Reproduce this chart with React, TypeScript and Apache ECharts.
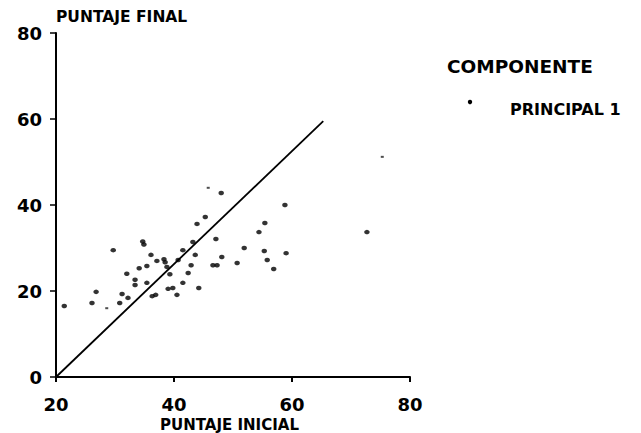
import React, { useEffect, useRef } from "react";
import * as echarts from "echarts";

// Scatter points: [puntaje inicial, puntaje final]
const principal1: number[][] = [
  [21.4, 16.5], [26.1, 17.2], [26.8, 19.8], [29.7, 29.5], [30.8, 17.2],
  [31.2, 19.3], [32.2, 18.4], [32.0, 24.0], [33.4, 22.6], [33.4, 21.4],
  [34.1, 25.3], [34.7, 31.5], [34.9, 30.8], [35.4, 25.8], [35.4, 21.9],
  [36.1, 28.4], [36.3, 18.8], [36.9, 19.1], [37.1, 27.0], [38.3, 27.4],
  [38.5, 26.7], [38.8, 25.6], [39.0, 20.5], [39.8, 20.7], [39.3, 23.9],
  [40.5, 19.1], [40.7, 27.2], [41.5, 29.5], [41.5, 21.9], [42.4, 24.2],
  [42.9, 26.0], [43.2, 31.4], [43.6, 28.4], [44.2, 20.7], [43.9, 35.6],
  [45.3, 37.2], [47.1, 32.1], [46.6, 26.0], [47.3, 26.0], [48.1, 27.9],
  [48.0, 42.8], [50.7, 26.5], [51.9, 30.0], [54.4, 33.7], [55.4, 35.8],
  [55.3, 29.3], [55.8, 27.2], [56.9, 25.1], [58.8, 40.0], [59.0, 28.8],
  [72.7, 33.7],
];
// Faint marks (very small specks / dash)
const faintPoints: number[][] = [[28.6, 16.0], [45.8, 44.0], [75.3, 51.2]];
// Reference line
const refLine: number[][] = [[20, 0], [65.3, 59.5]];

const xTicks = { min: 20, max: 80, interval: 20 };
const yTicks = { min: 0, max: 80, interval: 20 };

const legendTitle = "COMPONENTE";
const seriesName = "PRINCIPAL 1";

const FONT = "DejaVu Sans";

export default function App() {
  const ref = useRef<HTMLDivElement>(null);
  useEffect(() => {
    if (!ref.current) return;
    const chart = echarts.init(ref.current, undefined, { renderer: "svg" });
    chart.setOption({
      animation: false,
      backgroundColor: "#ffffff",
      graphic: [
        {
          type: "text",
          left: 447,
          top: 57,
          style: { text: legendTitle, fontFamily: FONT, fontWeight: "bold", fontSize: 18.5, fill: "#000" },
        },
        {
          type: "circle",
          shape: { cx: 470, cy: 102, r: 2.2 },
          style: { fill: "#000" },
        },
        {
          type: "text",
          left: 510,
          top: 101,
          style: { text: seriesName, fontFamily: FONT, fontWeight: "bold", fontSize: 16, fill: "#000" },
        },
      ],
      grid: { left: 56, top: 33, width: 354, height: 344, outerBoundsMode: "none", containLabel: false },
      xAxis: {
        type: "value",
        ...xTicks,
        name: "PUNTAJE INICIAL",
        nameLocation: "middle",
        nameGap: 39,
        nameTextStyle: {
          fontFamily: FONT, fontWeight: "bold", fontSize: 15, lineHeight: 15, color: "#000", padding: [0, 7, 0, 0],
        },
        axisLine: { onZero: false, lineStyle: { color: "#000", width: 2 } },
        axisTick: { show: true, inside: false, length: 5, lineStyle: { color: "#000", width: 2 } },
        axisLabel: { margin: 18, fontFamily: FONT, fontWeight: "bold", fontSize: 18, color: "#000" },
        splitLine: { show: false },
      },
      yAxis: {
        type: "value",
        ...yTicks,
        name: "PUNTAJE FINAL",
        nameLocation: "end",
        nameGap: 8,
        nameTextStyle: { fontFamily: FONT, fontWeight: "bold", fontSize: 15.5, color: "#000", align: "left" },
        axisLine: { show: true, onZero: false, lineStyle: { color: "#000", width: 2 } },
        axisTick: { show: true, inside: false, length: 6, lineStyle: { color: "#000", width: 1.5 } },
        axisLabel: { margin: 14, fontFamily: FONT, fontWeight: "bold", fontSize: 18, color: "#000" },
        splitLine: { show: false },
      },
      series: [
        {
          name: seriesName,
          type: "scatter",
          data: principal1,
          symbol: "circle",
          symbolSize: [5.5, 4.5],
          itemStyle: { color: "#000" },
        },
        {
          name: "faint",
          type: "scatter",
          data: faintPoints,
          symbol: "rect",
          symbolSize: [3, 2],
          itemStyle: { color: "#222" },
        },
        {
          name: "line",
          type: "line",
          data: refLine,
          showSymbol: false,
          symbol: "none",
          lineStyle: { color: "#000", width: 1.8 },
        },
      ],
    });
    return () => chart.dispose();
  }, []);
  return (
    <div
      ref={ref}
      style={{ position: "absolute", left: 0, top: 0, width: 641, height: 433, background: "#fff" }}
    />
  );
}
